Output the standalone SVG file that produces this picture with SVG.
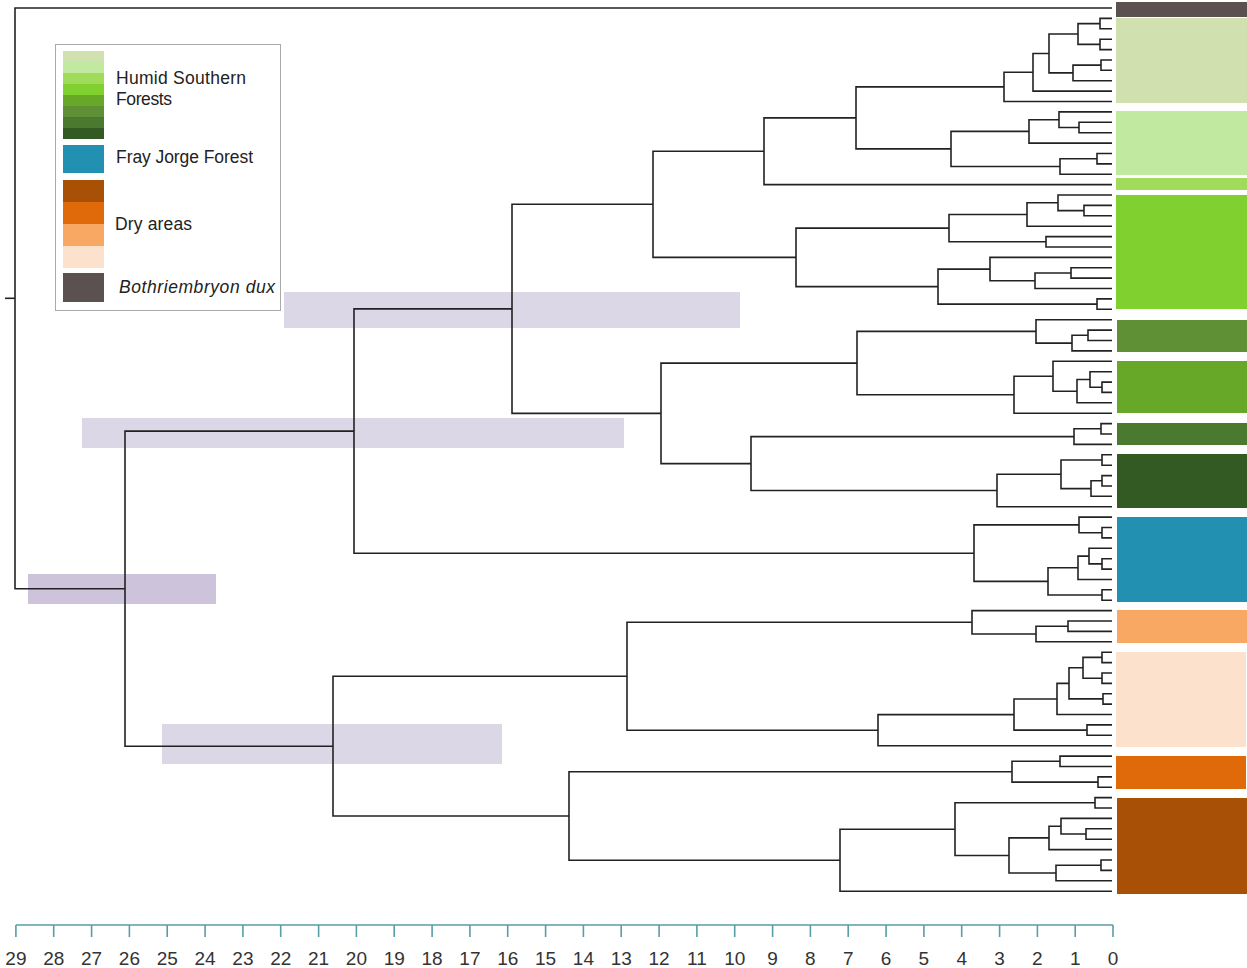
<svg xmlns="http://www.w3.org/2000/svg" width="1247" height="968" viewBox="0 0 1247 968">
<style>
.t{font-family:"Liberation Sans",Arial,sans-serif;fill:#222}
.lg{font-size:17.5px}
.ax{font-size:19px;text-anchor:middle;fill:#333}
.br{fill:none;stroke:#222;stroke-width:1.6}
.hpd{fill:#dcd7e7}
.tick{stroke:#5a9ea6;stroke-width:1.6;fill:none}
</style>
<rect width="1247" height="968" fill="#fff"/>
<g id="hpd-bars">
<rect class="hpd" x="284" y="292" width="456" height="36"/>
<rect class="hpd" x="82" y="418" width="542" height="30"/>
<rect x="28" y="574" width="188" height="30" fill="#cdc4dc"/>
<rect class="hpd" x="162" y="724" width="340" height="40"/>
</g>
<g id="connectors" class="br">
<path d="M5 298.3H15"/>
<path d="M1112 8H15V588.7H125"/>
<path d="M354 431.1H125V746.2H333"/>
<path d="M512 308.9H354V553.2H974"/>
<path d="M653 204.3H512V413.4H661"/>
<path d="M764 151.3H653V257.4H796"/>
<path d="M856 117.9H764V184.6H1112"/>
<path d="M1004 86.9H856V148.9H951"/>
<path d="M1033 72.3H1004V101.5H1112"/>
<path d="M1049 53.5H1033V91.1H1112"/>
<path d="M1078 34H1049V72.9H1073"/>
<path d="M1100 23.6H1078V44.4H1100"/>
<path d="M1112 18.4H1100V28.8H1112"/>
<path d="M1112 39.2H1100V49.6H1112"/>
<path d="M1101 65.1H1073V80.7H1112"/>
<path d="M1112 60H1101V70.3H1112"/>
<path d="M1029 131.4H951V166.5H1060"/>
<path d="M1059 119.7H1029V143.1H1112"/>
<path d="M1112 111.9H1059V127.5H1079"/>
<path d="M1112 122.3H1079V132.7H1112"/>
<path d="M1097 158.7H1060V174.2H1112"/>
<path d="M1112 153.5H1097V163.9H1112"/>
<path d="M949 228.1H796V286.6H938"/>
<path d="M1027 214.5H949V241.8H1046"/>
<path d="M1058 202.8H1027V226.2H1112"/>
<path d="M1112 195H1058V210.6H1084"/>
<path d="M1112 205.4H1084V215.8H1112"/>
<path d="M1112 236.6H1046V247H1112"/>
<path d="M990 269.1H938V304.1H1097"/>
<path d="M1112 257.4H990V280.8H1035"/>
<path d="M1071 273H1035V288.5H1112"/>
<path d="M1112 267.8H1071V278.1H1112"/>
<path d="M1112 298.9H1097V309.3H1112"/>
<path d="M857 363.1H661V463.6H751"/>
<path d="M1036 331.4H857V394.7H1014"/>
<path d="M1112 319.7H1036V343.1H1072"/>
<path d="M1088 335.3H1072V350.9H1112"/>
<path d="M1112 330.1H1088V340.5H1112"/>
<path d="M1053 376.2H1014V413.2H1112"/>
<path d="M1112 361.3H1053V391.2H1077"/>
<path d="M1090 379.5H1077V402.8H1112"/>
<path d="M1112 371.7H1090V387.3H1102"/>
<path d="M1112 382.1H1102V392.4H1112"/>
<path d="M1074 436.6H751V490.5H997"/>
<path d="M1101 428.8H1074V444.4H1112"/>
<path d="M1112 423.6H1101V434H1112"/>
<path d="M1061 474.3H997V506.7H1112"/>
<path d="M1102 460H1061V488.6H1091"/>
<path d="M1112 454.8H1102V465.2H1112"/>
<path d="M1102 480.8H1091V496.3H1112"/>
<path d="M1112 475.6H1102V486H1112"/>
<path d="M1079 524.9H974V581.4H1048"/>
<path d="M1112 517.1H1079V532.7H1102"/>
<path d="M1112 527.5H1102V537.9H1112"/>
<path d="M1078 567.8H1048V595H1102"/>
<path d="M1089 556.1H1078V579.5H1112"/>
<path d="M1112 548.3H1089V563.9H1102"/>
<path d="M1112 558.7H1102V569.1H1112"/>
<path d="M1112 589.8H1102V600.2H1112"/>
<path d="M627 676.3H333V816H569"/>
<path d="M972 622.3H627V730.2H878"/>
<path d="M1112 610.6H972V634H1036"/>
<path d="M1068 626.2H1036V641.8H1112"/>
<path d="M1112 621H1068V631.4H1112"/>
<path d="M1014 714.6H878V745.7H1112"/>
<path d="M1057 699H1014V730.1H1087"/>
<path d="M1069 683.4H1057V714.5H1112"/>
<path d="M1083 667.8H1069V698.9H1103"/>
<path d="M1102 657.4H1083V678.2H1102"/>
<path d="M1112 652.2H1102V662.6H1112"/>
<path d="M1112 673H1102V683.4H1112"/>
<path d="M1112 693.7H1103V704.1H1112"/>
<path d="M1112 724.9H1087V735.3H1112"/>
<path d="M1012 771.7H569V860.2H840"/>
<path d="M1060 761.3H1012V782.1H1098"/>
<path d="M1112 756.1H1060V766.5H1112"/>
<path d="M1112 776.9H1098V787.3H1112"/>
<path d="M955 829.2H840V891.2H1112"/>
<path d="M1095 802.8H955V855.5H1009"/>
<path d="M1112 797.6H1095V808H1112"/>
<path d="M1049 837.9H1009V873H1056"/>
<path d="M1061 826.2H1049V849.6H1112"/>
<path d="M1112 818.4H1061V834H1086"/>
<path d="M1112 828.8H1086V839.2H1112"/>
<path d="M1101 865.2H1056V880.8H1112"/>
<path d="M1112 860H1101V870.4H1112"/>
</g>
<g id="clade-bars">
<rect x="1116" y="2" width="131" height="15" fill="#5b5151"/>
<rect x="1116" y="18" width="131" height="85" fill="#d1e0af"/>
<rect x="1116" y="111" width="131" height="64" fill="#c1e9a0"/>
<rect x="1116" y="178" width="131" height="12" fill="#a0dc5a"/>
<rect x="1116" y="195" width="131" height="114" fill="#80d030"/>
<rect x="1117" y="320" width="130" height="32" fill="#609035"/>
<rect x="1117" y="361" width="130" height="52" fill="#68a828"/>
<rect x="1117" y="423" width="130" height="22" fill="#4a7a2f"/>
<rect x="1117" y="454" width="130" height="54" fill="#335a22"/>
<rect x="1117" y="517" width="130" height="85" fill="#2290b0"/>
<rect x="1117" y="610" width="130" height="33" fill="#f8a862"/>
<rect x="1116" y="652" width="130" height="95" fill="#fce2cc"/>
<rect x="1116" y="756" width="130" height="33" fill="#e06a0a"/>
<rect x="1117" y="798" width="130" height="96" fill="#a85006"/>
</g>
<g id="legend">
<rect x="55.5" y="44.5" width="225" height="266" fill="#fff" stroke="#aaa" stroke-width="1"/>
<rect x="63" y="51" width="41" height="11" fill="#d1e0af"/>
<rect x="63" y="62" width="41" height="11" fill="#c1e9a0"/>
<rect x="63" y="73" width="41" height="11" fill="#a0dc5a"/>
<rect x="63" y="84" width="41" height="11" fill="#80d030"/>
<rect x="63" y="95" width="41" height="11" fill="#68a828"/>
<rect x="63" y="106" width="41" height="11" fill="#609035"/>
<rect x="63" y="117" width="41" height="11" fill="#4a7a2f"/>
<rect x="63" y="128" width="41" height="11" fill="#335a22"/>
<rect x="63" y="145" width="41" height="28" fill="#2290b0"/>
<rect x="63" y="180" width="41" height="22" fill="#a85006"/>
<rect x="63" y="202" width="41" height="22" fill="#e06a0a"/>
<rect x="63" y="224" width="41" height="22" fill="#f8a862"/>
<rect x="63" y="246" width="41" height="22" fill="#fce2cc"/>
<rect x="63" y="273" width="41" height="29" fill="#5b5151"/>
<text class="t lg" x="116" y="84" textLength="130">Humid Southern</text>
<text class="t lg" x="116" y="105" textLength="56">Forests</text>
<text class="t lg" x="116" y="163" textLength="137">Fray Jorge Forest</text>
<text class="t lg" x="115" y="230" textLength="77">Dry areas</text>
<text class="t lg" x="119" y="293" font-style="italic" textLength="156">Bothriembryon dux</text>
</g>
<g id="axis">
<path class="tick" d="M15.9 925H1113M15.9 925V937M53.7 925V937M91.6 925V937M129.4 925V937M167.2 925V937M205.1 925V937M242.9 925V937M280.7 925V937M318.6 925V937M356.4 925V937M394.2 925V937M432.1 925V937M469.9 925V937M507.7 925V937M545.6 925V937M583.4 925V937M621.2 925V937M659.1 925V937M696.9 925V937M734.7 925V937M772.6 925V937M810.4 925V937M848.2 925V937M886.1 925V937M923.9 925V937M961.7 925V937M999.6 925V937M1037.4 925V937M1075.2 925V937M1113 925V937"/>
<text class="t ax" x="15.9" y="965">29</text>
<text class="t ax" x="53.7" y="965">28</text>
<text class="t ax" x="91.6" y="965">27</text>
<text class="t ax" x="129.4" y="965">26</text>
<text class="t ax" x="167.2" y="965">25</text>
<text class="t ax" x="205.1" y="965">24</text>
<text class="t ax" x="242.9" y="965">23</text>
<text class="t ax" x="280.7" y="965">22</text>
<text class="t ax" x="318.6" y="965">21</text>
<text class="t ax" x="356.4" y="965">20</text>
<text class="t ax" x="394.2" y="965">19</text>
<text class="t ax" x="432.1" y="965">18</text>
<text class="t ax" x="469.9" y="965">17</text>
<text class="t ax" x="507.7" y="965">16</text>
<text class="t ax" x="545.6" y="965">15</text>
<text class="t ax" x="583.4" y="965">14</text>
<text class="t ax" x="621.2" y="965">13</text>
<text class="t ax" x="659.1" y="965">12</text>
<text class="t ax" x="696.9" y="965">11</text>
<text class="t ax" x="734.7" y="965">10</text>
<text class="t ax" x="772.6" y="965">9</text>
<text class="t ax" x="810.4" y="965">8</text>
<text class="t ax" x="848.2" y="965">7</text>
<text class="t ax" x="886.1" y="965">6</text>
<text class="t ax" x="923.9" y="965">5</text>
<text class="t ax" x="961.7" y="965">4</text>
<text class="t ax" x="999.6" y="965">3</text>
<text class="t ax" x="1037.4" y="965">2</text>
<text class="t ax" x="1075.2" y="965">1</text>
<text class="t ax" x="1113" y="965">0</text>
</g>
</svg>
